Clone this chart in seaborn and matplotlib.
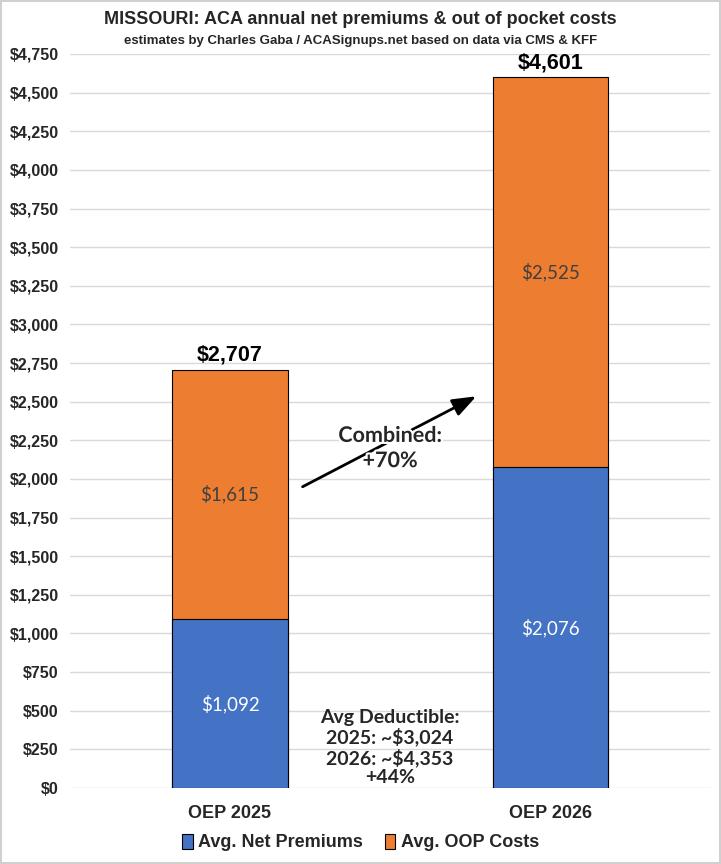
import matplotlib
matplotlib.use("Agg")
import matplotlib.pyplot as plt
import matplotlib.patheffects as pe
import seaborn as sns
import pandas as pd
from matplotlib.ticker import FuncFormatter
from matplotlib.patches import Patch

categories = ["OEP 2025", "OEP 2026"]
net_premiums = [1092, 2076]
oop_costs = [1615, 2525]
totals = [2707, 4601]
series_names = ["Avg. Net Premiums", "Avg. OOP Costs"]
deductible_text = "Avg Deductible:\n2025: ~$3,024\n2026: ~$4,353\n+44%"
combined_text = "Combined:\n+70%"

sns.set_theme(style="white")
narrow = ["Liberation Sans Narrow", "Liberation Sans", "DejaVu Sans"]
lato = ["Lato", "DejaVu Sans"]
plt.rcParams["font.family"] = narrow

blue = "#4472C4"
orange = "#ED7D31"

fig = plt.figure(figsize=(7.21, 8.64), dpi=100)
fig.patch.set_edgecolor("#d0d0d0")
fig.patch.set_linewidth(1.5)
ax = fig.add_axes([0.097, 0.088, 0.888, 0.8495])

df = pd.DataFrame({"cat": categories, "net": net_premiums, "oop": oop_costs, "tot": totals})

sns.barplot(data=df, x="cat", y="tot", color=orange, width=0.36,
            edgecolor="black", linewidth=0.8, ax=ax, zorder=2, saturation=1)
sns.barplot(data=df, x="cat", y="net", color=blue, width=0.36,
            edgecolor="black", linewidth=0.8, ax=ax, zorder=3, saturation=1)

ax.set_ylim(0, 4750)
ax.set_xlim(-0.5, 1.5)
ax.set_yticks(range(0, 4751, 250))
ax.yaxis.set_major_formatter(FuncFormatter(lambda v, p: f"${int(v):,}"))
ax.grid(axis="y", color="#d9d9d9", linewidth=1, zorder=0)
ax.set_axisbelow(True)
for s in ax.spines.values():
    s.set_visible(False)
ax.set_xlabel("")
ax.set_ylabel("")
ax.tick_params(axis="y", length=0, pad=8)
ax.tick_params(axis="x", length=0, pad=12)
for lab in ax.get_yticklabels():
    lab.set_fontsize(11.5)
    lab.set_fontweight("bold")
for lab in ax.get_xticklabels():
    lab.set_fontsize(13)
    lab.set_fontweight("bold")

for i in range(len(categories)):
    ax.text(i, net_premiums[i] / 2, f"${net_premiums[i]:,}", ha="center", va="center",
            color="white", fontsize=13.5, family=lato, zorder=5)
    ax.text(i, net_premiums[i] + oop_costs[i] / 2, f"${oop_costs[i]:,}", ha="center", va="center",
            color="#404040", fontsize=13.5, family=lato, zorder=5)
    ax.text(i, totals[i] + 25, f"${totals[i]:,}", ha="center", va="bottom",
            color="black", fontsize=15.5, fontweight="bold", zorder=5)

ax.annotate("", xy=(0.777, 2543), xytext=(0.219, 1941),
            arrowprops=dict(arrowstyle="-|>,head_length=1.2,head_width=0.45", color="black", lw=2),
            zorder=4)
ax.text(0.5, 2200, combined_text, ha="center", va="center", fontsize=15.5, fontweight="bold",
        family=lato, linespacing=1.25, zorder=6,
        path_effects=[pe.withStroke(linewidth=3, foreground="white")])
ax.text(0.5, 262, deductible_text, ha="center", va="center", fontsize=14, fontweight="bold",
        family=lato, linespacing=1.12, zorder=6)

fig.text(0.5, 0.978, "MISSOURI: ACA annual net premiums & out of pocket costs", ha="center",
         va="center", fontsize=13, fontweight="bold")
fig.text(0.5, 0.953, "estimates by Charles Gaba / ACASignups.net based on data via CMS & KFF",
         ha="center", va="center", fontsize=9.5, fontweight="bold")

handles = [Patch(facecolor=blue, edgecolor="black", linewidth=0.8),
           Patch(facecolor=orange, edgecolor="black", linewidth=0.8)]
fig.legend(handles, series_names, loc="center", bbox_to_anchor=(0.5, 0.025), ncol=2,
           frameon=False, prop=dict(size=13, weight="bold"), handlelength=0.6,
           handleheight=0.9, handletextpad=0.3, columnspacing=1.2)

fig.savefig("out.png", dpi=100)
